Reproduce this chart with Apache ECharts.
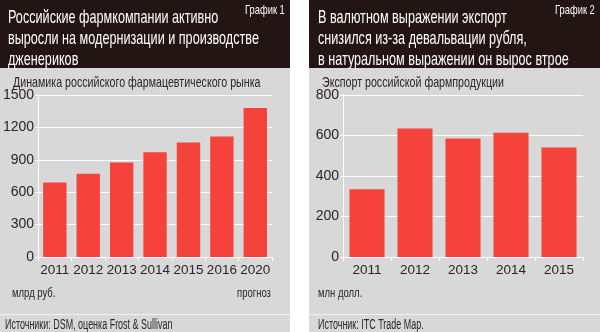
<!DOCTYPE html>
<html><head><meta charset="utf-8">
<script src="https://cdn.jsdelivr.net/npm/echarts@6/dist/echarts.min.js"></script>
<style>html,body{margin:0;padding:0;background:#fff}#c{width:600px;height:332px}</style>
</head><body><div id="c"></div>
<script>
const years1 = ['2011','2012','2013','2014','2015','2016','2020'];
const market = [690, 770, 875, 970, 1060, 1115, 1380];
const years2 = ['2011','2012','2013','2014','2015'];
const exportVals = [335, 635, 585, 613, 541];
const ticks1 = [0, 300, 600, 900, 1200, 1500];
const ticks2 = [0, 200, 400, 600, 800];

const FONT = '"Liberation Sans", Arial, sans-serif';
const DARK = '#231513';
const GRAY = '#d8d8d8';
const RED = '#f5433b';
const TXT = '#2a2526';

const chart = echarts.init(document.getElementById('c'), null, {renderer:'canvas'});

function txt(x, y, text, size, color, sx, lh) {
  return {type:'text', x:x, y:y, z:10, scaleX:sx,
    style:{text:text, fill:color, font: size + 'px ' + FONT, lineHeight: lh || size*1.2}};
}

function yAx(idx, ticks) {
  return {type:'value', gridIndex:idx, min:ticks[0], max:ticks[ticks.length-1], interval:ticks[1]-ticks[0],
    axisLine:{show:true, lineStyle:{color:'#ffffff'}},
    axisTick:{show:true, length:3, lineStyle:{color:'#ffffff'}},
    splitLine:{lineStyle:{color:'#ffffff', width:1}},
    axisLabel:{color:TXT, fontFamily:FONT, fontSize:14, margin:4, formatter:function(v){return String(v);}}};
}
function xAx(idx, cats) {
  return {type:'category', gridIndex:idx, data:cats,
    axisLine:{lineStyle:{color:'#ffffff', width:1}},
    axisTick:{show:true, length:4, lineStyle:{color:'#ffffff'}},
    axisLabel:{color:TXT, fontFamily:FONT, fontSize:13.5, margin:6, interval:0}};
}

chart.setOption({
  animation:false,
  backgroundColor:'#ffffff',
  graphic:[
    {type:'rect', shape:{x:0,y:0,width:290,height:332}, style:{fill:GRAY}, z:-10},
    {type:'rect', shape:{x:309,y:0,width:291,height:332}, style:{fill:GRAY}, z:-10},
    {type:'rect', shape:{x:0,y:0,width:290,height:68}, style:{fill:DARK}, z:-9},
    {type:'rect', shape:{x:309,y:0,width:291,height:68}, style:{fill:DARK}, z:-9},
    {type:'rect', shape:{x:0,y:314,width:290,height:1}, style:{fill:'#f2f2f2'}, z:-8},
    {type:'rect', shape:{x:309,y:314,width:291,height:1}, style:{fill:'#f2f2f2'}, z:-8},
    txt(8, 7, 'Российские фармкомпании активно\nвыросли на модернизации и производстве\nдженериков', 19, '#ffffff', 0.665, 21),
    txt(245, 3, 'График 1', 13, '#ffffff', 0.72),
    txt(318, 7, 'В валютном выражении экспорт\nснизился из-за девальвации рубля,\nв натуральном выражении он вырос втрое', 19, '#ffffff', 0.665, 21),
    txt(555, 3, 'График 2', 13, '#ffffff', 0.72),
    txt(13, 74, 'Динамика российского фармацевтического рынка', 14.5, TXT, 0.735),
    txt(322, 74, 'Экспорт российской фармпродукции', 14.5, TXT, 0.735),
    txt(12, 286, 'млрд руб.', 12.5, TXT, 0.76),
    txt(237, 286, 'прогноз', 12.5, TXT, 0.76),
    txt(318, 286, 'млн долл.', 12.5, TXT, 0.76),
    txt(5, 317, 'Источники: DSM, оценка Frost & Sullivan', 14, TXT, 0.64),
    txt(318, 317, 'Источник: ITC Trade Map.', 14, TXT, 0.64)
  ],
  grid:[
    {left:33, top:95, width:239, height:162},
    {left:343, top:95, width:240, height:162}
  ],
  xAxis:[xAx(0, years1), xAx(1, years2)],
  yAxis:[yAx(0, ticks1), yAx(1, ticks2)],
  series:[
    {type:'bar', xAxisIndex:0, yAxisIndex:0, data:market, barCategoryGap:'30%',
     itemStyle:{color:RED}},
    {type:'bar', xAxisIndex:1, yAxisIndex:1, data:exportVals, barCategoryGap:'27%',
     itemStyle:{color:RED}}
  ]
});
</script></body></html>
